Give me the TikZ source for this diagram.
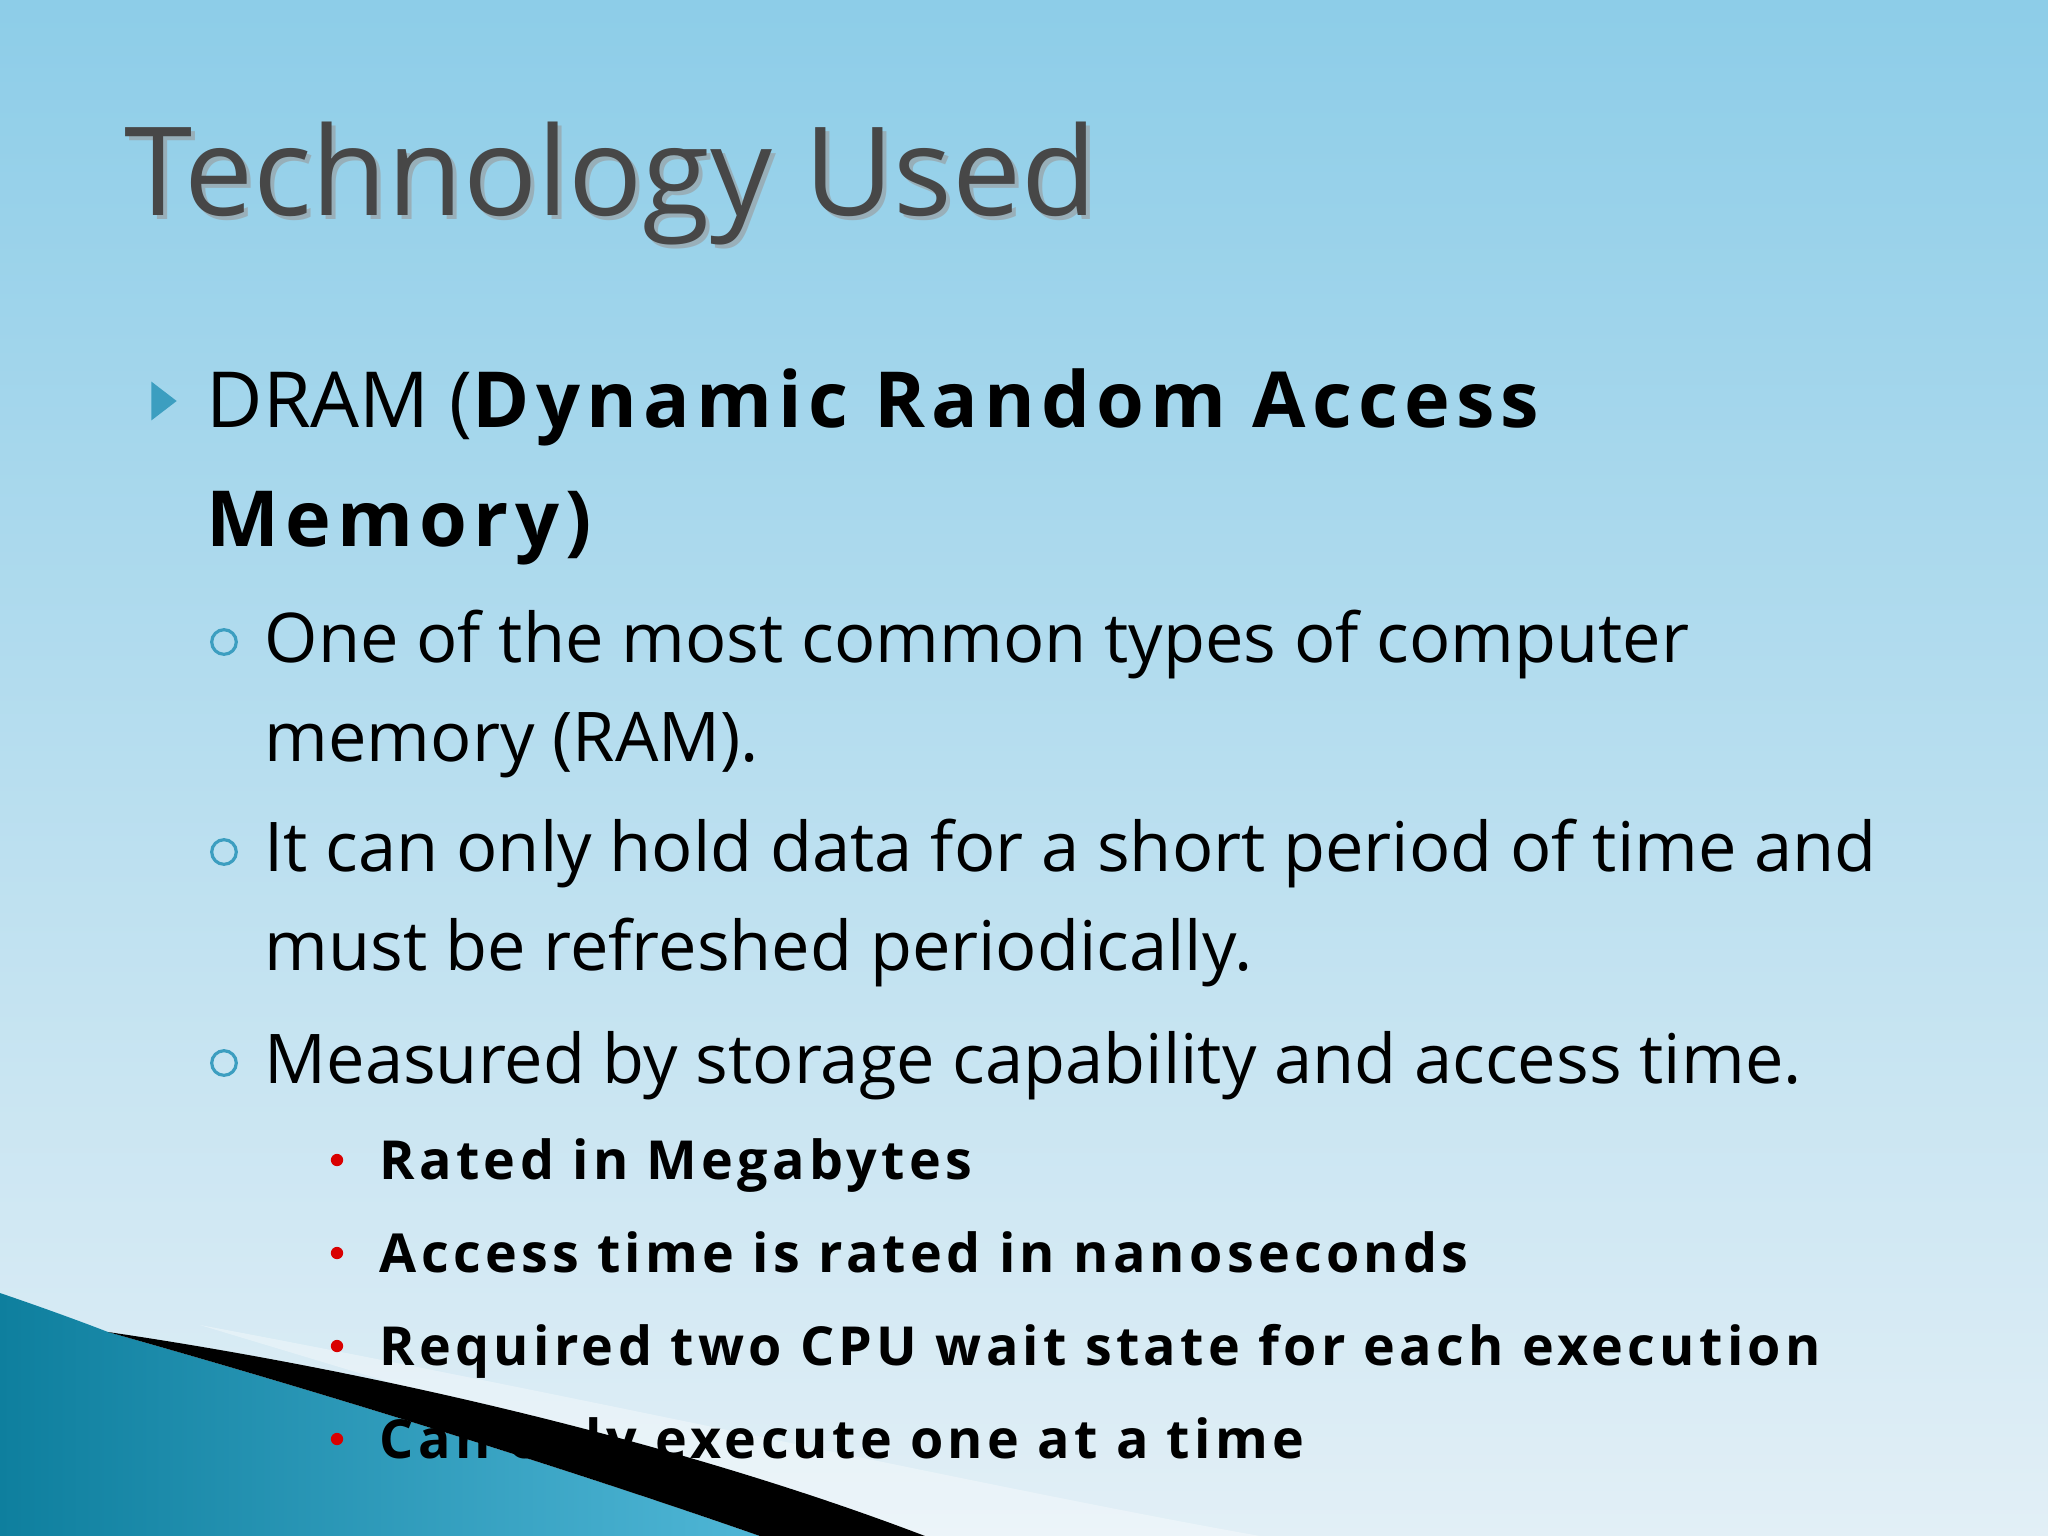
\documentclass[tikz,border=0pt]{standalone}
\usepackage{fontspec}
\setmainfont{Open Sans}
\newfontfamily\titlef{Open Sans}
\newfontfamily\spaced[LetterSpace=8]{Open Sans}
\usetikzlibrary{shapes.geometric}
\definecolor{bgtop}{HTML}{8DCDE8}
\definecolor{bgbot}{HTML}{E2EFF6}
\definecolor{teal1}{HTML}{0E7F9E}
\definecolor{teal2}{HTML}{4FB6D6}
\definecolor{bul}{HTML}{3C9EC0}
\definecolor{titlec}{HTML}{474747}
\begin{document}
\begin{tikzpicture}[x=0.01cm,y=-0.01cm,
  body/.style={anchor=base west,inner sep=0,font=\fontsize{19.5}{24}\selectfont},
  sub/.style={anchor=base west,inner sep=0,font=\fontsize{15.3}{20}\selectfont\spaced\bfseries},
  circ/.style={circle,draw=bul,line width=0.9pt,minimum size=7pt,inner sep=0},
  dot/.style={circle,fill=red!85!black,minimum size=3.5pt,inner sep=0}]
\useasboundingbox (0,0) rectangle (2048,1536);
\shade[top color=bgtop,bottom color=bgbot] (0,0) rectangle (2048,1536);
% swoosh
\fill[white,opacity=0.35] (200,1325) .. controls (600,1400) and (1000,1490) .. (1260,1536) -- (900,1536) -- cycle;
\shade[left color=teal1,right color=teal2] (0,1293) .. controls (50,1310) and (90,1325) .. (108,1332) .. controls (350,1400) and (600,1480) .. (760,1536) -- (0,1536) -- cycle;
\fill[black] (108,1332) .. controls (350,1400) and (600,1480) .. (760,1536) -- (925,1536) .. controls (700,1450) and (400,1375) .. (108,1332) -- cycle;
% title
\node[anchor=base west,inner sep=0,font=\fontsize{35}{40}\selectfont\titlef,text=black!40,opacity=0.6] at (128,219) {Technology Used};
\node (title) [anchor=base west,inner sep=0,font=\fontsize{35}{40}\selectfont\titlef,text=titlec] at (124,215) {Technology Used};
% main bullet
\node (tri) [isosceles triangle,fill=bul,minimum width=11pt,minimum height=7pt,inner sep=0,isosceles triangle apex angle=75] at (161,401) {};
\node (l1) [body,font=\fontsize{22}{28}\selectfont] at (206,427) {DRAM (\spaced\bfseries Dynamic Random Access};
\node (l2) [body,font=\fontsize{22}{28}\selectfont\spaced\bfseries] at (206,546) {Memory)};
% circle bullets
\node (c1) [circ] at (224,642) {};
\node (t1) [body] at (264,662) {One of the most common types of computer};
\node (t1b) [body] at (264,761) {memory (RAM).};
\node (c2) [circ] at (224,852) {};
\node (t2) [body] at (264,871) {It can only hold data for a short period of time and};
\node (t2b) [body] at (264,970) {must be refreshed periodically.};
\node (c3) [circ] at (224,1063) {};
\node (t3) [body] at (264,1083) {Measured by storage capability and access time.};
% sub bullets
\node (d1) [dot] at (337,1160) {};
\node (s1) [sub] at (379,1179) {Rated in Megabytes};
\node (d2) [dot] at (337,1253) {};
\node (s2) [sub] at (379,1272) {Access time is rated in nanoseconds};
\node (d3) [dot] at (337,1346) {};
\node (s3) [sub] at (379,1365) {Required two CPU wait state for each execution};
\node (d4) [dot] at (337,1439) {};
\node (s4) [sub] at (379,1458) {Can only execute one at a time};
\end{tikzpicture}
\end{document}
